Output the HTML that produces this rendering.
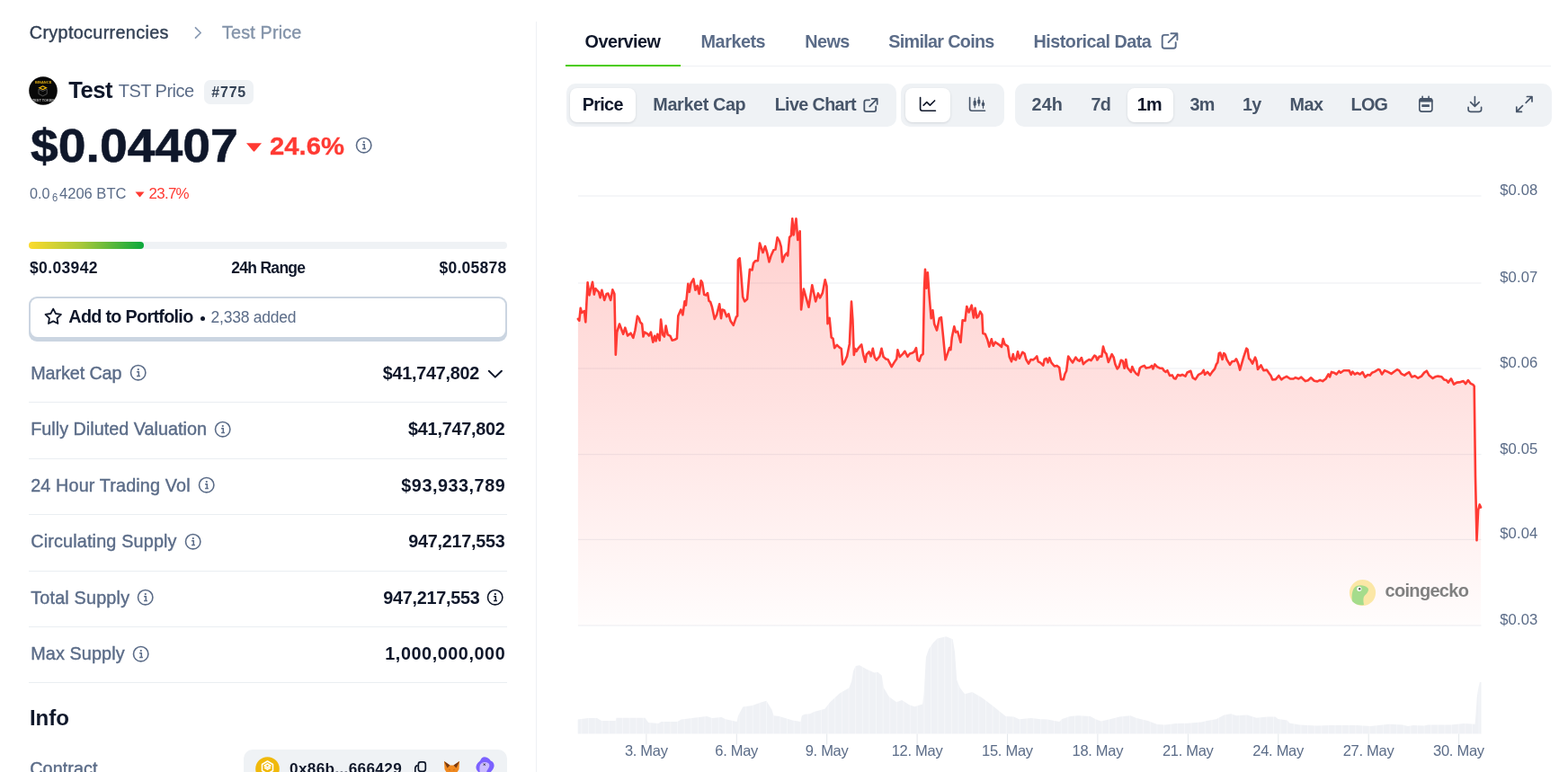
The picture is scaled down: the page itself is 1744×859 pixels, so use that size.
<!DOCTYPE html>
<html><head><meta charset="utf-8"><title>Test Price</title>
<style>
html,body{margin:0;padding:0;background:#fff;}
body{width:1744px;height:859px;overflow:hidden;position:relative;font-family:"Liberation Sans",sans-serif;}
.t{position:absolute;white-space:nowrap;line-height:1;}
.a{position:absolute;display:block;}
</style></head><body>
<div class="t" style="left:32.8px;top:26.9px;font-size:19.80px;color:#334155;letter-spacing:0.34px;-webkit-text-stroke:0.4px #334155;">Cryptocurrencies</div>
<svg class="a" style="left:212px;top:26px" width="16" height="22" viewBox="212 26 16 22"><path d="M217.5 30.8 L223.2 36.5 L217.5 42.2" fill="none" stroke="#8a9bb4" stroke-width="1.75" stroke-linecap="round" stroke-linejoin="round" /></svg>
<div class="t" style="left:247.0px;top:26.9px;font-size:19.80px;color:#8393a9;letter-spacing:0.16px;-webkit-text-stroke:0.4px #8393a9;">Test Price</div>
<svg class="a" style="left:32px;top:85px" width="32" height="32" viewBox="0 0 32 32">
<circle cx="16" cy="16" r="15.8" fill="#080808"/>
<text x="16.2" y="7.6" font-family="Liberation Sans, sans-serif" font-weight="700" font-size="4" fill="#e0ad12" text-anchor="middle">BINANCE</text>
<path d="M15.6 10.2 L20.8 12.7 L15.6 15.2 L10.4 12.7 Z" fill="#f0b90b"/>
<path d="M13.2 12.7 L15.6 11.5 L18 12.7 L15.6 13.9 Z" fill="#080808"/>
<path d="M11 14.2 L15.6 16.5 L20.2 14.2 V19.5 L15.6 21.8 L11 19.5 Z" fill="none" stroke="#5a5a5a" stroke-width="0.9"/>
<text x="16" y="28.2" font-family="Liberation Sans, sans-serif" font-weight="700" font-size="3.8" fill="#b8b8b8" text-anchor="middle">TEST TOKEN</text>
</svg>
<div class="t" style="left:76.2px;top:88.0px;font-size:25.60px;color:#0f172a;font-weight:700;letter-spacing:-0.50px;">Test</div>
<div class="t" style="left:131.8px;top:90.8px;font-size:20.00px;color:#5b6c88;letter-spacing:-0.54px;">TST Price</div>
<div class="a" style="left:227px;top:89px;width:55px;height:27px;border-radius:7px;background:#eff2f5"></div>
<div class="t" style="left:235.2px;top:94.6px;font-size:16.00px;color:#334155;font-weight:700;letter-spacing:0.83px;">#775</div>
<div class="t" style="left:33.9px;top:137.4px;font-size:51.30px;color:#0f172a;font-weight:700;-webkit-text-stroke:0.6px #0f172a;transform:scaleX(1.0784);transform-origin:0 0;">$0.04407</div>
<svg class="a" style="left:273px;top:158px" width="19" height="12" viewBox="0 0 19 12"><path d="M1 1.2 H18 L10.3 10.3 Q9.5 11.2 8.7 10.3 Z" fill="#ff3a33"/></svg>
<div class="t" style="left:300.4px;top:147.8px;font-size:28.20px;color:#ff3a33;font-weight:700;-webkit-text-stroke:0.3px #ff3a33;transform:scaleX(1.0382);transform-origin:0 0;">24.6%</div>
<svg class="a" style="left:394.9px;top:151.8px" width="19.4" height="19.4" viewBox="-9.70 -9.70 19.40 19.40"><circle r="8.2" fill="none" stroke="#5b6c88" stroke-width="1.6"/><circle cx="0.1" cy="-3.6" r="1.15" fill="#5b6c88"/><path d="M-1.6 -0.9 H0.6 V3.9 M-1.6 3.9 H2.2" fill="none" stroke="#5b6c88" stroke-width="1.5"/></svg>
<div class="t" style="left:33.1px;top:208.0px;font-size:16.90px;color:#5b6c88;transform:scaleX(0.9578);transform-origin:0 0;">0.0</div>
<div class="t" style="left:57.7px;top:213.7px;font-size:12.50px;color:#5b6c88;transform:scaleX(0.8937);transform-origin:0 0;">6</div>
<div class="t" style="left:65.5px;top:208.0px;font-size:16.90px;color:#5b6c88;transform:scaleX(0.9785);transform-origin:0 0;">4206 BTC</div>
<svg class="a" style="left:149.5px;top:212.5px" width="11" height="7" viewBox="0 0 11 7"><path d="M0.5 0.6 H10.5 L6 6 Q5.5 6.6 5 6 Z" fill="#ff3a33"/></svg>
<div class="t" style="left:165.5px;top:208.0px;font-size:16.90px;color:#ff3a33;letter-spacing:-0.70px;">23.7%</div>
<div class="a" style="left:32px;top:269px;width:532px;height:8px;border-radius:4px;background:#eff2f5"></div>
<div class="a" style="left:32px;top:269px;width:128px;height:8px;border-radius:4px;background:linear-gradient(90deg,#fcdb2d 0%,#a9c83a 45%,#0ba83c 100%)"></div>
<div class="t" style="left:33.0px;top:290.0px;font-size:17.50px;color:#0f172a;font-weight:700;letter-spacing:0.36px;">$0.03942</div>
<div class="t" style="left:257.2px;top:290.0px;font-size:17.50px;color:#0f172a;font-weight:700;letter-spacing:-0.70px;">24h Range</div>
<div class="t" style="left:488.6px;top:290.0px;font-size:17.50px;color:#0f172a;font-weight:700;letter-spacing:0.23px;">$0.05878</div>
<div class="a" style="left:32px;top:330px;width:532px;height:50px;border-radius:9px;background:#cbd5e1"></div>
<div class="a" style="left:34px;top:332px;width:528px;height:43px;border-radius:7.5px;background:#fff"></div>
<svg class="a" style="left:46px;top:340px" width="26" height="24" viewBox="46 340 26 24"><path d="M59.2 343.6 L62 349 L67.9 349.9 L63.5 354.2 L64.4 360 L59.2 357.4 L54 360 L54.9 354.2 L50.5 349.9 L56.4 349 Z" fill="none" stroke="#0f172a" stroke-width="1.8" stroke-linecap="round" stroke-linejoin="round" /></svg>
<div class="t" style="left:76.3px;top:343.2px;font-size:19.80px;color:#0f172a;font-weight:700;letter-spacing:-0.70px;">Add to Portfolio</div>
<div class="a" style="left:222.5px;top:351.5px;width:5px;height:5px;border-radius:50%;background:#0f172a"></div>
<div class="t" style="left:234.6px;top:344.9px;font-size:17.50px;color:#5b6c88;letter-spacing:-0.24px;">2,338 added</div>
<div class="t" style="left:34.2px;top:405.5px;font-size:19.80px;color:#5b6c88;letter-spacing:-0.10px;-webkit-text-stroke:0.4px #5b6c88;">Market Cap</div>
<svg class="a" style="left:143.5px;top:405.2px" width="19.4" height="19.4" viewBox="-9.70 -9.70 19.40 19.40"><circle r="8.2" fill="none" stroke="#5b6c88" stroke-width="1.6"/><circle cx="0.1" cy="-3.6" r="1.15" fill="#5b6c88"/><path d="M-1.6 -0.9 H0.6 V3.9 M-1.6 3.9 H2.2" fill="none" stroke="#5b6c88" stroke-width="1.5"/></svg>
<div class="t" style="left:425.7px;top:405.5px;font-size:19.80px;color:#0f172a;font-weight:700;letter-spacing:-0.24px;">$41,747,802</div>
<svg class="a" style="left:540px;top:406px" width="22" height="18" viewBox="540 406 22 18"><path d="M543.8 412.7 L550.8 419.6 L557.9 412.7" fill="none" stroke="#0f172a" stroke-width="2.0" stroke-linecap="round" stroke-linejoin="round" /></svg>
<div class="a" style="left:32px;top:447px;width:532px;height:1px;background:#eaeef2"></div>
<div class="t" style="left:34.2px;top:468.0px;font-size:19.80px;color:#5b6c88;letter-spacing:0.02px;-webkit-text-stroke:0.4px #5b6c88;">Fully Diluted Valuation</div>
<svg class="a" style="left:238.0px;top:467.7px" width="19.4" height="19.4" viewBox="-9.70 -9.70 19.40 19.40"><circle r="8.2" fill="none" stroke="#5b6c88" stroke-width="1.6"/><circle cx="0.1" cy="-3.6" r="1.15" fill="#5b6c88"/><path d="M-1.6 -0.9 H0.6 V3.9 M-1.6 3.9 H2.2" fill="none" stroke="#5b6c88" stroke-width="1.5"/></svg>
<div class="t" style="left:454.1px;top:468.0px;font-size:19.80px;color:#0f172a;font-weight:700;letter-spacing:-0.24px;">$41,747,802</div>
<div class="a" style="left:32px;top:510px;width:532px;height:1px;background:#eaeef2"></div>
<div class="t" style="left:34.2px;top:530.5px;font-size:19.80px;color:#5b6c88;letter-spacing:0.14px;-webkit-text-stroke:0.4px #5b6c88;">24 Hour Trading Vol</div>
<svg class="a" style="left:219.5px;top:530.2px" width="19.4" height="19.4" viewBox="-9.70 -9.70 19.40 19.40"><circle r="8.2" fill="none" stroke="#5b6c88" stroke-width="1.6"/><circle cx="0.1" cy="-3.6" r="1.15" fill="#5b6c88"/><path d="M-1.6 -0.9 H0.6 V3.9 M-1.6 3.9 H2.2" fill="none" stroke="#5b6c88" stroke-width="1.5"/></svg>
<div class="t" style="left:446.3px;top:530.5px;font-size:19.80px;color:#0f172a;font-weight:700;letter-spacing:0.54px;">$93,933,789</div>
<div class="a" style="left:32px;top:572px;width:532px;height:1px;background:#eaeef2"></div>
<div class="t" style="left:34.2px;top:593.0px;font-size:19.80px;color:#5b6c88;letter-spacing:0.17px;-webkit-text-stroke:0.4px #5b6c88;">Circulating Supply</div>
<svg class="a" style="left:204.5px;top:592.7px" width="19.4" height="19.4" viewBox="-9.70 -9.70 19.40 19.40"><circle r="8.2" fill="none" stroke="#5b6c88" stroke-width="1.6"/><circle cx="0.1" cy="-3.6" r="1.15" fill="#5b6c88"/><path d="M-1.6 -0.9 H0.6 V3.9 M-1.6 3.9 H2.2" fill="none" stroke="#5b6c88" stroke-width="1.5"/></svg>
<div class="t" style="left:454.3px;top:593.0px;font-size:19.80px;color:#0f172a;font-weight:700;letter-spacing:-0.26px;">947,217,553</div>
<div class="a" style="left:32px;top:635px;width:532px;height:1px;background:#eaeef2"></div>
<div class="t" style="left:34.2px;top:655.5px;font-size:19.80px;color:#5b6c88;letter-spacing:0.19px;-webkit-text-stroke:0.4px #5b6c88;">Total Supply</div>
<svg class="a" style="left:152.0px;top:655.2px" width="19.4" height="19.4" viewBox="-9.70 -9.70 19.40 19.40"><circle r="8.2" fill="none" stroke="#5b6c88" stroke-width="1.6"/><circle cx="0.1" cy="-3.6" r="1.15" fill="#5b6c88"/><path d="M-1.6 -0.9 H0.6 V3.9 M-1.6 3.9 H2.2" fill="none" stroke="#5b6c88" stroke-width="1.5"/></svg>
<div class="t" style="left:426.3px;top:655.5px;font-size:19.80px;color:#0f172a;font-weight:700;letter-spacing:-0.26px;">947,217,553</div>
<svg class="a" style="left:541.1px;top:655.2px" width="19.4" height="19.4" viewBox="-9.70 -9.70 19.40 19.40"><circle r="8.2" fill="none" stroke="#0f172a" stroke-width="1.6"/><circle cx="0.1" cy="-3.6" r="1.15" fill="#0f172a"/><path d="M-1.6 -0.9 H0.6 V3.9 M-1.6 3.9 H2.2" fill="none" stroke="#0f172a" stroke-width="1.5"/></svg>
<div class="a" style="left:32px;top:697px;width:532px;height:1px;background:#eaeef2"></div>
<div class="t" style="left:34.2px;top:718.0px;font-size:19.80px;color:#5b6c88;letter-spacing:0.12px;-webkit-text-stroke:0.4px #5b6c88;">Max Supply</div>
<svg class="a" style="left:146.5px;top:717.7px" width="19.4" height="19.4" viewBox="-9.70 -9.70 19.40 19.40"><circle r="8.2" fill="none" stroke="#5b6c88" stroke-width="1.6"/><circle cx="0.1" cy="-3.6" r="1.15" fill="#5b6c88"/><path d="M-1.6 -0.9 H0.6 V3.9 M-1.6 3.9 H2.2" fill="none" stroke="#5b6c88" stroke-width="1.5"/></svg>
<div class="t" style="left:428.3px;top:718.0px;font-size:19.80px;color:#0f172a;font-weight:700;letter-spacing:0.57px;">1,000,000,000</div>
<div class="a" style="left:32px;top:759px;width:532px;height:1px;background:#eaeef2"></div>
<div class="t" style="left:33.0px;top:787.3px;font-size:24.10px;color:#0f172a;font-weight:700;letter-spacing:-0.07px;">Info</div>
<div class="t" style="left:33.2px;top:845.6px;font-size:19.80px;color:#5b6c88;letter-spacing:0.09px;-webkit-text-stroke:0.4px #5b6c88;">Contract</div>
<div class="a" style="left:271px;top:834px;width:293px;height:50px;border-radius:10px;background:#eff2f5"></div>
<svg class="a" style="left:284px;top:842px" width="27" height="27" viewBox="0 0 27 27"><circle cx="13.5" cy="13.5" r="13.3" fill="#f0b90b"/>
<path d="M13.5 5 L19.5 8.5 V15.5 L13.5 19 L7.5 15.5 V8.5 Z M13.5 8 L16.8 10 L13.5 12 L10.2 10 Z M10 12.2 L13.5 14.2 L17 12.2" fill="none" stroke="#fff" stroke-width="1.5" stroke-linejoin="round"/></svg>
<div class="t" style="left:322.0px;top:847.0px;font-size:17.20px;color:#0f172a;font-weight:700;letter-spacing:0.33px;">0x86b...666429</div>
<svg class="a" style="left:458px;top:844px" width="20" height="18" viewBox="458 844 20 18"><rect x="465.3" y="847.8" width="8" height="10.5" rx="2.6" fill="none" stroke="#0f172a" stroke-width="1.7"/><path d="M461.8 860 V855.3 Q461.8 852.3 464 851.8" fill="none" stroke="#0f172a" stroke-width="1.7" stroke-linecap="round"/></svg>
<svg class="a" style="left:492px;top:845px" width="21" height="16" viewBox="492 845 21 16"><path d="M494 847 L500.5 851.5 H504.5 L511 847 L510.5 856 L508 860 H497 L494.5 856 Z" fill="#f0891f"/><path d="M494 847 L500.5 851.5 L497.5 854.5 Z M511 847 L504.5 851.5 L507.5 854.5 Z" fill="#7a3a10"/><path d="M499 856 L501 857 M506 856 L504 857" stroke="#c46a1a" stroke-width="0.8"/></svg>
<svg class="a" style="left:528px;top:841px" width="23" height="19" viewBox="528 841 23 19"><path d="M539 842.3 C542.3 842.3 544.6 844.6 545.8 846.6 C548.6 847.6 550.2 850.6 549.4 853.2 C548.6 856 546.6 858.2 545 860 L533.5 860 C530.6 858 529 855.4 529.6 852.4 C530.2 849.4 532.6 847.6 534.2 846.2 C535.2 843.8 536.8 842.3 539 842.3 Z" fill="#7b61ff"/><path d="M538.5 848 C541.5 847.6 544.3 849 544.4 851.5 C544.5 853.6 542.6 855.5 541.6 857.6 L541 860 L533.8 860 C533.5 857.5 533.2 855 533.6 852.5 C534 850 536 848.3 538.5 848 Z" fill="#cbbcff"/><path d="M537.8 849.6 L539.6 851.6 M539.6 849.6 L537.8 851.6" stroke="#222" stroke-width="1"/></svg>
<div class="a" style="left:596px;top:24px;width:1.2px;height:835px;background:#eef1f4"></div>
<div class="a" style="left:629px;top:72.5px;width:1096px;height:1.3px;background:#eef1f4"></div>
<div class="a" style="left:629px;top:71.8px;width:128px;height:2.4px;background:#4bcc00"></div>
<div class="t" style="left:650.6px;top:36.7px;font-size:19.80px;color:#0f172a;font-weight:700;letter-spacing:-0.53px;">Overview</div>
<div class="t" style="left:779.6px;top:36.7px;font-size:19.80px;color:#5b6c88;font-weight:700;letter-spacing:-0.46px;">Markets</div>
<div class="t" style="left:895.3px;top:36.7px;font-size:19.80px;color:#5b6c88;font-weight:700;letter-spacing:-0.59px;">News</div>
<div class="t" style="left:988.3px;top:36.7px;font-size:19.80px;color:#5b6c88;font-weight:700;letter-spacing:-0.70px;">Similar Coins</div>
<div class="t" style="left:1149.6px;top:36.7px;font-size:19.80px;color:#5b6c88;font-weight:700;letter-spacing:-0.53px;">Historical Data</div>
<svg class="a" style="left:1290px;top:35px" width="22.00" height="22.00" viewBox="0 0 22 22"><path d="M9.4 3.9 H5.2 Q2.7 3.9 2.7 6.4 V16.3 Q2.7 18.8 5.2 18.8 H15.2 Q17.7 18.8 17.7 16.3 V12.1 M12.4 2.3 H19.4 V9.2 M19.2 2.5 L9.6 12.1" fill="none" stroke="#5b6c88" stroke-width="1.90" stroke-linecap="round" stroke-linejoin="round"/></svg>
<div class="a" style="left:629.5px;top:93px;width:367.0px;height:48px;border-radius:10px;background:#eff2f5"></div>
<div class="a" style="left:1002px;top:93px;width:115px;height:48px;border-radius:10px;background:#eff2f5"></div>
<div class="a" style="left:1129px;top:93px;width:596.5999999999999px;height:48px;border-radius:10px;background:#eff2f5"></div>
<div class="a" style="left:634px;top:98px;width:73px;height:38px;border-radius:8px;background:#fff;box-shadow:0 1px 3px rgba(15,23,42,0.12)"></div>
<div class="a" style="left:1007px;top:98px;width:50px;height:38px;border-radius:8px;background:#fff;box-shadow:0 1px 3px rgba(15,23,42,0.12)"></div>
<div class="a" style="left:1254px;top:98px;width:51px;height:38px;border-radius:8px;background:#fff;box-shadow:0 1px 3px rgba(15,23,42,0.12)"></div>
<div class="t" style="left:647.8px;top:107.2px;font-size:19.80px;color:#0f172a;font-weight:700;letter-spacing:-0.70px;">Price</div>
<div class="t" style="left:726.3px;top:107.2px;font-size:19.80px;color:#475569;font-weight:700;letter-spacing:-0.36px;">Market Cap</div>
<div class="t" style="left:861.7px;top:107.2px;font-size:19.80px;color:#475569;font-weight:700;letter-spacing:-0.65px;">Live Chart</div>
<svg class="a" style="left:958.7px;top:107.6px" width="18.92" height="18.92" viewBox="0 0 22 22"><path d="M9.4 3.9 H5.2 Q2.7 3.9 2.7 6.4 V16.3 Q2.7 18.8 5.2 18.8 H15.2 Q17.7 18.8 17.7 16.3 V12.1 M12.4 2.3 H19.4 V9.2 M19.2 2.5 L9.6 12.1" fill="none" stroke="#475569" stroke-width="2.09" stroke-linecap="round" stroke-linejoin="round"/></svg>
<svg class="a" style="left:1018px;top:104px" width="26" height="24" viewBox="1018 104 26 24"><path d="M1023.6 108.6 V121 Q1023.6 123.2 1025.8 123.2 H1040.4 M1027.2 117.2 L1030.8 113.7 L1034.4 117.2 L1039.6 112" fill="none" stroke="#0f172a" stroke-width="1.65" stroke-linecap="round" stroke-linejoin="round" /></svg>
<svg class="a" style="left:1074px;top:104px" width="26" height="24" viewBox="1074 104 26 24"><path d="M1078.6 108.5 V121 Q1078.6 123.2 1080.8 123.2 H1095.5" fill="none" stroke="#475569" stroke-width="1.65" stroke-linecap="round" stroke-linejoin="round" /><path d="M1084.2 109.3 V119.8 M1088.8 108.2 V117.7 M1093.5 111.8 V120.3" stroke="#475569" stroke-width="1.2" stroke-linecap="round"/><rect x="1082.6" y="112.1" width="3.2" height="5.6" rx="1.1" fill="#475569"/><rect x="1087.2" y="110.8" width="3.2" height="4.8" rx="1.1" fill="#475569"/><rect x="1091.9" y="114.1" width="3.2" height="4" rx="1.1" fill="#475569"/></svg>
<div class="t" style="left:1147.5px;top:107.1px;font-size:19.80px;color:#475569;font-weight:700;letter-spacing:0.17px;">24h</div>
<div class="t" style="left:1213.4px;top:107.1px;font-size:19.80px;color:#475569;font-weight:700;letter-spacing:-0.70px;">7d</div>
<div class="t" style="left:1264.7px;top:107.1px;font-size:19.80px;color:#0f172a;font-weight:700;letter-spacing:-0.70px;">1m</div>
<div class="t" style="left:1323.4px;top:107.1px;font-size:19.80px;color:#475569;font-weight:700;letter-spacing:-0.70px;">3m</div>
<div class="t" style="left:1381.9px;top:107.1px;font-size:19.80px;color:#475569;font-weight:700;letter-spacing:-0.70px;">1y</div>
<div class="t" style="left:1434.5px;top:107.1px;font-size:19.80px;color:#475569;font-weight:700;letter-spacing:-0.51px;">Max</div>
<div class="t" style="left:1502.5px;top:107.1px;font-size:19.80px;color:#475569;font-weight:700;letter-spacing:-0.70px;">LOG</div>
<svg class="a" style="left:1575px;top:104px" width="22" height="24" viewBox="1575 104 22 24"><rect x="1578.8" y="109.8" width="14.1" height="14.3" rx="2.6" fill="none" stroke="#475569" stroke-width="1.6"/><path d="M1578.4 112.3 Q1578.4 109 1581.4 109 H1590.4 Q1593.5 109 1593.5 112.3 V113.6 H1578.4 Z" fill="#475569"/><path d="M1582.1 107.4 V110 M1589.1 107.4 V110" stroke="#475569" stroke-width="1.6" stroke-linecap="round"/><rect x="1581.3" y="116.3" width="8.6" height="2.8" rx="0.5" fill="#475569"/></svg>
<svg class="a" style="left:1629px;top:104px" width="22" height="24" viewBox="1629 104 22 24"><path d="M1640.4 107.5 V118.2 M1635.6 113.6 L1640.4 118.4 L1645.2 113.6 M1633.1 119.3 V121.8 Q1633.1 124.3 1635.6 124.3 H1645.2 Q1647.6 124.3 1647.6 121.8 V119.3" fill="none" stroke="#475569" stroke-width="1.65" stroke-linecap="round" stroke-linejoin="round" /></svg>
<svg class="a" style="left:1683px;top:104px" width="24" height="24" viewBox="1683 104 24 24"><path d="M1698.4 107.5 H1704 V113 M1703.8 107.7 L1697.2 114.3 M1686.8 119 V124.4 H1692.4 M1687 124.2 L1693.5 117.7" fill="none" stroke="#475569" stroke-width="1.7" stroke-linecap="round" stroke-linejoin="round" /></svg>
<svg class="a" style="left:600px;top:150px" width="1144" height="709" viewBox="600 150 1144 709">
<defs><linearGradient id="ag" gradientUnits="userSpaceOnUse" x1="0" y1="230" x2="0" y2="700"><stop offset="0" stop-color="#ff3a33" stop-opacity="0.24"/><stop offset="0.45" stop-color="#ff3a33" stop-opacity="0.15"/><stop offset="1" stop-color="#ff3a33" stop-opacity="0.01"/></linearGradient><pattern id="vp" patternUnits="userSpaceOnUse" x="1004.5" y="0" width="7.62" height="10"><rect width="7.62" height="10" fill="#eff1f5"/><rect x="0" width="0.8" height="10" fill="#f7f8fa"/></pattern></defs>
<rect x="643" y="217.4" width="1004.5" height="1.2" fill="#eef1f4"/>
<rect x="643" y="314.4" width="1004.5" height="1.2" fill="#eef1f4"/>
<rect x="643" y="409.4" width="1004.5" height="1.2" fill="#eef1f4"/>
<rect x="643" y="505.0" width="1004.5" height="1.2" fill="#eef1f4"/>
<rect x="643" y="599.8" width="1004.5" height="1.2" fill="#eef1f4"/>
<rect x="643" y="695.4" width="1004.5" height="1.2" fill="#eef1f4"/>
<path d="M642.9 354.9 L644.3 356.8 L645.7 342.8 L647.1 348.0 L649.9 346.1 L651.3 358.4 L653.6 314.4 L655.5 328.4 L659.0 313.7 L660.8 327.7 L662.4 321.0 L664.5 323.5 L665.9 324.9 L667.6 331.2 L669.4 322.8 L672.2 334.0 L674.6 327.0 L676.4 326.6 L679.2 334.0 L681.3 322.4 L683.4 327.0 L684.8 394.7 L686.2 369.6 L689.0 360.5 L693.2 371.7 L695.3 364.7 L698.1 373.5 L701.5 370.7 L704.3 375.9 L706.4 367.5 L708.9 351.9 L710.9 354.5 L712.0 358.4 L714.1 360.5 L715.5 374.5 L716.9 369.6 L720.4 371.7 L721.8 373.5 L723.9 369.6 L726.3 380.8 L728.1 373.8 L729.5 379.4 L731.3 371.7 L733.7 378.7 L735.1 355.6 L737.1 372.4 L738.9 374.5 L740.6 362.6 L742.7 372.4 L745.5 373.8 L747.6 378.7 L750.4 378.0 L752.9 376.6 L754.3 351.5 L757.3 344.5 L759.4 350.3 L761.5 335.4 L762.9 339.6 L765.3 315.8 L766.8 324.9 L768.5 315.1 L771.3 310.3 L773.4 322.8 L775.5 317.9 L777.6 327.0 L779.7 312.3 L781.1 314.4 L783.2 327.7 L785.3 328.4 L787.0 326.0 L788.5 334.7 L790.2 336.1 L792.0 341.7 L794.8 354.9 L797.2 350.1 L800.2 338.2 L802.0 354.2 L803.4 344.5 L805.5 345.2 L808.3 352.2 L810.4 349.4 L812.5 357.0 L815.7 361.9 L818.8 352.8 L820.2 351.5 L820.9 289.4 L822.7 287.3 L824.1 302.6 L826.2 330.6 L828.3 335.4 L831.1 332.7 L833.9 299.8 L836.6 300.5 L838.0 292.8 L840.1 290.3 L842.9 290.1 L845.0 270.5 L848.5 281.0 L851.0 274.0 L853.0 280.3 L855.5 291.5 L857.6 284.5 L860.4 278.2 L862.5 277.5 L864.6 264.2 L867.0 268.4 L868.8 274.7 L870.2 291.5 L873.0 283.8 L875.1 281.7 L876.2 284.5 L878.1 264.2 L879.9 262.1 L881.3 243.3 L882.7 261.4 L885.5 243.3 L887.3 267.0 L889.7 257.2 L891.1 344.5 L893.9 321.5 L896.0 329.2 L899.5 341.7 L903.3 317.3 L907.2 335.4 L910.0 326.4 L912.1 331.4 L914.9 325.8 L917.7 311.2 L919.5 318.2 L920.5 360.1 L922.6 353.8 L924.7 375.4 L926.5 376.8 L928.2 387.3 L930.9 383.8 L933.7 386.6 L935.8 388.0 L937.2 405.4 L939.3 402.7 L942.1 396.4 L944.9 382.4 L947.0 335.6 L948.4 355.9 L949.8 395.0 L951.2 388.0 L952.6 390.8 L954.7 387.3 L958.2 383.5 L960.3 395.0 L962.4 402.7 L963.8 394.3 L966.6 391.5 L968.7 396.4 L970.8 387.7 L972.8 397.8 L974.9 400.6 L978.4 396.4 L980.5 387.7 L982.6 397.1 L985.4 399.4 L987.5 399.9 L991.7 408.2 L994.5 403.4 L997.3 399.2 L998.4 389.4 L1000.8 397.1 L1004.3 393.6 L1006.4 390.8 L1009.5 396.8 L1012.0 393.4 L1014.8 392.7 L1016.9 391.3 L1019.0 387.1 L1020.6 400.3 L1022.5 401.7 L1024.6 395.4 L1026.6 394.0 L1028.0 320.7 L1029.0 299.8 L1030.4 320.7 L1031.8 303.3 L1033.6 329.1 L1035.7 354.2 L1037.4 345.2 L1039.2 360.5 L1042.0 367.5 L1044.8 354.2 L1046.9 353.1 L1049.0 373.8 L1051.5 400.3 L1053.9 393.4 L1056.0 387.1 L1057.4 389.2 L1058.8 375.2 L1061.3 363.3 L1063.0 369.6 L1065.1 368.9 L1068.5 380.8 L1070.6 356.3 L1073.4 357.0 L1075.3 341.0 L1077.6 347.5 L1080.7 339.6 L1082.9 353.5 L1084.6 342.8 L1086.4 353.5 L1088.1 352.2 L1090.2 346.6 L1092.3 350.1 L1093.3 371.0 L1095.8 371.7 L1098.3 378.0 L1100.3 385.7 L1102.8 377.3 L1104.7 384.8 L1107.0 380.7 L1110.5 383.1 L1114.0 386.0 L1115.7 377.0 L1117.5 383.1 L1121.0 385.4 L1122.7 397.0 L1125.0 402.3 L1126.8 394.1 L1127.9 399.4 L1130.0 400.5 L1132.0 391.2 L1133.8 398.8 L1137.3 391.8 L1139.6 393.6 L1141.3 400.0 L1144.0 404.6 L1146.6 400.0 L1148.9 400.5 L1151.2 398.8 L1153.3 396.5 L1154.7 402.3 L1157.0 403.4 L1160.3 406.6 L1161.7 400.0 L1163.8 398.8 L1165.5 403.4 L1167.3 398.2 L1169.3 403.4 L1172.8 407.5 L1175.7 406.9 L1178.2 408.9 L1180.1 422.1 L1182.9 422.1 L1184.4 416.3 L1186.1 412.8 L1188.2 396.5 L1190.2 399.4 L1193.1 403.4 L1196.4 397.6 L1198.5 400.5 L1200.6 401.7 L1202.9 398.0 L1204.9 405.2 L1207.8 402.3 L1211.3 400.0 L1213.6 401.1 L1217.4 395.6 L1218.9 396.5 L1220.4 400.5 L1222.9 396.5 L1225.3 396.8 L1227.0 385.6 L1228.8 391.8 L1230.5 393.6 L1232.8 402.9 L1236.7 394.1 L1238.7 397.6 L1240.4 405.2 L1242.7 410.4 L1244.5 408.1 L1246.8 400.8 L1248.8 401.7 L1250.6 409.8 L1252.3 400.0 L1253.8 408.7 L1255.5 411.0 L1257.9 413.9 L1259.3 408.1 L1261.4 412.8 L1263.7 415.7 L1266.0 417.4 L1267.8 409.6 L1269.5 408.1 L1272.8 406.9 L1274.7 409.6 L1278.8 408.7 L1281.1 406.9 L1282.5 410.4 L1284.4 405.4 L1287.0 408.1 L1290.5 409.8 L1292.9 409.8 L1294.5 412.2 L1296.4 413.9 L1298.4 412.2 L1301.1 418.0 L1303.7 417.4 L1305.7 420.9 L1307.5 421.5 L1310.0 417.1 L1312.7 418.0 L1315.0 416.8 L1318.5 418.6 L1320.5 414.5 L1324.3 412.8 L1326.7 420.3 L1329.6 422.1 L1333.1 416.8 L1336.6 415.1 L1338.7 411.9 L1340.1 416.8 L1343.0 413.9 L1345.9 417.4 L1348.2 413.9 L1351.1 410.4 L1352.9 405.2 L1354.3 403.4 L1355.8 393.0 L1357.3 392.6 L1359.6 400.0 L1361.2 393.0 L1362.8 394.7 L1364.5 400.0 L1368.0 405.8 L1370.3 402.3 L1373.2 401.7 L1375.0 399.4 L1377.3 404.6 L1379.1 411.6 L1383.1 397.6 L1386.4 387.7 L1387.6 388.9 L1389.1 398.8 L1390.8 400.5 L1393.1 404.6 L1396.1 397.6 L1397.6 401.7 L1399.0 411.0 L1402.5 406.4 L1405.4 412.2 L1408.9 411.6 L1411.8 415.7 L1413.5 418.0 L1415.3 422.4 L1418.8 422.1 L1422.3 418.0 L1425.2 422.4 L1428.1 420.3 L1431.0 418.9 L1435.1 421.5 L1438.6 421.5 L1440.9 420.1 L1444.4 421.5 L1447.3 419.7 L1451.9 424.1 L1454.8 423.2 L1458.1 420.3 L1461.8 423.8 L1465.3 424.4 L1468.2 422.9 L1471.1 424.1 L1474.6 421.5 L1477.5 416.3 L1479.1 419.4 L1481.0 413.9 L1484.5 415.1 L1486.4 416.5 L1489.3 413.0 L1491.1 414.7 L1494.6 412.2 L1497.5 412.2 L1500.7 412.4 L1502.7 416.8 L1504.4 413.6 L1506.8 416.5 L1509.7 414.9 L1512.6 416.5 L1515.5 414.1 L1518.4 419.6 L1521.3 417.0 L1523.7 417.6 L1526.0 414.7 L1528.9 413.6 L1533.0 411.0 L1534.7 411.8 L1537.0 416.5 L1540.0 412.2 L1543.4 413.6 L1547.5 415.9 L1551.0 413.3 L1553.9 411.2 L1556.3 412.4 L1558.6 415.9 L1562.1 417.6 L1564.4 415.9 L1567.3 414.1 L1570.2 419.4 L1573.7 418.2 L1577.2 420.7 L1581.0 418.6 L1584.1 414.6 L1586.8 412.7 L1589.4 417.5 L1593.6 420.9 L1596.2 419.3 L1599.3 418.6 L1603.5 419.3 L1606.1 422.4 L1608.8 423.0 L1610.7 425.6 L1614.0 421.4 L1617.1 427.7 L1620.3 425.6 L1624.5 425.1 L1627.6 424.0 L1630.2 427.1 L1632.9 423.0 L1635.5 426.6 L1638.6 428.2 L1639.7 429.8 L1641.0 530.0 L1642.5 601.3 L1644.1 567.7 L1645.7 561.4 L1647.0 564.6 L1647.0 696 L642.9 696 Z" fill="url(#ag)"/>
<path d="M642.7 800.6 L654.2 799.1 L663.9 799.1 L669.1 802.1 L684.7 802.1 L685.5 798.7 L717.5 798.7 L721.2 804.1 L732.4 805.1 L735.4 802.9 L753.3 802.9 L757.8 800.6 L769.7 799.1 L786.1 796.9 L792.1 799.1 L802.5 798.1 L807.0 800.2 L819.6 802.9 L821.1 796.2 L826.3 786.5 L836.8 785.0 L845.7 781.7 L852.4 779.8 L858.4 789.4 L860.6 796.2 L866.6 796.9 L881.5 801.4 L890.4 802.9 L891.9 796.2 L895.0 794.7 L901.0 794.2 L905.4 792.1 L917.4 788.7 L923.3 781.2 L933.8 771.6 L944.2 765.6 L947.2 758.1 L949.0 747.0 L951.6 741.0 L956.1 740.3 L963.6 744.4 L972.5 748.4 L976.2 747.7 L980.7 751.4 L983.0 765.6 L988.9 775.3 L997.1 781.2 L1003.1 779.0 L1011.3 784.2 L1017.2 786.2 L1026.2 783.5 L1027.7 770.1 L1029.9 731.3 L1032.9 722.4 L1038.1 714.9 L1042.6 710.4 L1052.3 708.2 L1059.7 711.2 L1062.0 725.3 L1064.2 756.6 L1067.9 765.6 L1073.1 772.3 L1081.3 770.1 L1091.8 776.0 L1103.7 785.0 L1118.6 796.9 L1127.6 797.6 L1133.5 800.2 L1146.9 799.1 L1157.5 800.2 L1164.9 800.6 L1178.3 802.9 L1181.3 799.9 L1190.3 796.9 L1199.2 796.2 L1212.6 796.9 L1218.6 800.2 L1224.5 802.6 L1233.5 800.6 L1245.4 797.6 L1257.3 796.2 L1263.3 798.7 L1276.7 802.1 L1287.1 806.1 L1296.1 806.6 L1308.0 805.1 L1321.4 804.8 L1336.3 803.6 L1342.3 802.1 L1352.7 800.2 L1361.7 795.4 L1369.1 794.2 L1375.1 796.2 L1387.0 795.4 L1397.5 798.7 L1410.0 797.6 L1418.4 797.6 L1421.4 799.9 L1431.8 801.4 L1434.1 804.4 L1445.2 806.6 L1464.6 807.6 L1479.5 807.0 L1509.4 807.0 L1524.3 808.1 L1545.1 805.8 L1560.0 806.6 L1566.0 808.1 L1572.0 807.0 L1583.9 807.6 L1588.4 806.6 L1613.7 806.6 L1628.6 805.1 L1640.5 805.8 L1641.3 796.9 L1642.8 775.3 L1644.3 765.6 L1645.8 758.9 L1647.5 758.9 L1647.5 816.5 L642.7 816.5 Z" fill="url(#vp)"/>
<path d="M642.9 354.9 L644.3 356.8 L645.7 342.8 L647.1 348.0 L649.9 346.1 L651.3 358.4 L653.6 314.4 L655.5 328.4 L659.0 313.7 L660.8 327.7 L662.4 321.0 L664.5 323.5 L665.9 324.9 L667.6 331.2 L669.4 322.8 L672.2 334.0 L674.6 327.0 L676.4 326.6 L679.2 334.0 L681.3 322.4 L683.4 327.0 L684.8 394.7 L686.2 369.6 L689.0 360.5 L693.2 371.7 L695.3 364.7 L698.1 373.5 L701.5 370.7 L704.3 375.9 L706.4 367.5 L708.9 351.9 L710.9 354.5 L712.0 358.4 L714.1 360.5 L715.5 374.5 L716.9 369.6 L720.4 371.7 L721.8 373.5 L723.9 369.6 L726.3 380.8 L728.1 373.8 L729.5 379.4 L731.3 371.7 L733.7 378.7 L735.1 355.6 L737.1 372.4 L738.9 374.5 L740.6 362.6 L742.7 372.4 L745.5 373.8 L747.6 378.7 L750.4 378.0 L752.9 376.6 L754.3 351.5 L757.3 344.5 L759.4 350.3 L761.5 335.4 L762.9 339.6 L765.3 315.8 L766.8 324.9 L768.5 315.1 L771.3 310.3 L773.4 322.8 L775.5 317.9 L777.6 327.0 L779.7 312.3 L781.1 314.4 L783.2 327.7 L785.3 328.4 L787.0 326.0 L788.5 334.7 L790.2 336.1 L792.0 341.7 L794.8 354.9 L797.2 350.1 L800.2 338.2 L802.0 354.2 L803.4 344.5 L805.5 345.2 L808.3 352.2 L810.4 349.4 L812.5 357.0 L815.7 361.9 L818.8 352.8 L820.2 351.5 L820.9 289.4 L822.7 287.3 L824.1 302.6 L826.2 330.6 L828.3 335.4 L831.1 332.7 L833.9 299.8 L836.6 300.5 L838.0 292.8 L840.1 290.3 L842.9 290.1 L845.0 270.5 L848.5 281.0 L851.0 274.0 L853.0 280.3 L855.5 291.5 L857.6 284.5 L860.4 278.2 L862.5 277.5 L864.6 264.2 L867.0 268.4 L868.8 274.7 L870.2 291.5 L873.0 283.8 L875.1 281.7 L876.2 284.5 L878.1 264.2 L879.9 262.1 L881.3 243.3 L882.7 261.4 L885.5 243.3 L887.3 267.0 L889.7 257.2 L891.1 344.5 L893.9 321.5 L896.0 329.2 L899.5 341.7 L903.3 317.3 L907.2 335.4 L910.0 326.4 L912.1 331.4 L914.9 325.8 L917.7 311.2 L919.5 318.2 L920.5 360.1 L922.6 353.8 L924.7 375.4 L926.5 376.8 L928.2 387.3 L930.9 383.8 L933.7 386.6 L935.8 388.0 L937.2 405.4 L939.3 402.7 L942.1 396.4 L944.9 382.4 L947.0 335.6 L948.4 355.9 L949.8 395.0 L951.2 388.0 L952.6 390.8 L954.7 387.3 L958.2 383.5 L960.3 395.0 L962.4 402.7 L963.8 394.3 L966.6 391.5 L968.7 396.4 L970.8 387.7 L972.8 397.8 L974.9 400.6 L978.4 396.4 L980.5 387.7 L982.6 397.1 L985.4 399.4 L987.5 399.9 L991.7 408.2 L994.5 403.4 L997.3 399.2 L998.4 389.4 L1000.8 397.1 L1004.3 393.6 L1006.4 390.8 L1009.5 396.8 L1012.0 393.4 L1014.8 392.7 L1016.9 391.3 L1019.0 387.1 L1020.6 400.3 L1022.5 401.7 L1024.6 395.4 L1026.6 394.0 L1028.0 320.7 L1029.0 299.8 L1030.4 320.7 L1031.8 303.3 L1033.6 329.1 L1035.7 354.2 L1037.4 345.2 L1039.2 360.5 L1042.0 367.5 L1044.8 354.2 L1046.9 353.1 L1049.0 373.8 L1051.5 400.3 L1053.9 393.4 L1056.0 387.1 L1057.4 389.2 L1058.8 375.2 L1061.3 363.3 L1063.0 369.6 L1065.1 368.9 L1068.5 380.8 L1070.6 356.3 L1073.4 357.0 L1075.3 341.0 L1077.6 347.5 L1080.7 339.6 L1082.9 353.5 L1084.6 342.8 L1086.4 353.5 L1088.1 352.2 L1090.2 346.6 L1092.3 350.1 L1093.3 371.0 L1095.8 371.7 L1098.3 378.0 L1100.3 385.7 L1102.8 377.3 L1104.7 384.8 L1107.0 380.7 L1110.5 383.1 L1114.0 386.0 L1115.7 377.0 L1117.5 383.1 L1121.0 385.4 L1122.7 397.0 L1125.0 402.3 L1126.8 394.1 L1127.9 399.4 L1130.0 400.5 L1132.0 391.2 L1133.8 398.8 L1137.3 391.8 L1139.6 393.6 L1141.3 400.0 L1144.0 404.6 L1146.6 400.0 L1148.9 400.5 L1151.2 398.8 L1153.3 396.5 L1154.7 402.3 L1157.0 403.4 L1160.3 406.6 L1161.7 400.0 L1163.8 398.8 L1165.5 403.4 L1167.3 398.2 L1169.3 403.4 L1172.8 407.5 L1175.7 406.9 L1178.2 408.9 L1180.1 422.1 L1182.9 422.1 L1184.4 416.3 L1186.1 412.8 L1188.2 396.5 L1190.2 399.4 L1193.1 403.4 L1196.4 397.6 L1198.5 400.5 L1200.6 401.7 L1202.9 398.0 L1204.9 405.2 L1207.8 402.3 L1211.3 400.0 L1213.6 401.1 L1217.4 395.6 L1218.9 396.5 L1220.4 400.5 L1222.9 396.5 L1225.3 396.8 L1227.0 385.6 L1228.8 391.8 L1230.5 393.6 L1232.8 402.9 L1236.7 394.1 L1238.7 397.6 L1240.4 405.2 L1242.7 410.4 L1244.5 408.1 L1246.8 400.8 L1248.8 401.7 L1250.6 409.8 L1252.3 400.0 L1253.8 408.7 L1255.5 411.0 L1257.9 413.9 L1259.3 408.1 L1261.4 412.8 L1263.7 415.7 L1266.0 417.4 L1267.8 409.6 L1269.5 408.1 L1272.8 406.9 L1274.7 409.6 L1278.8 408.7 L1281.1 406.9 L1282.5 410.4 L1284.4 405.4 L1287.0 408.1 L1290.5 409.8 L1292.9 409.8 L1294.5 412.2 L1296.4 413.9 L1298.4 412.2 L1301.1 418.0 L1303.7 417.4 L1305.7 420.9 L1307.5 421.5 L1310.0 417.1 L1312.7 418.0 L1315.0 416.8 L1318.5 418.6 L1320.5 414.5 L1324.3 412.8 L1326.7 420.3 L1329.6 422.1 L1333.1 416.8 L1336.6 415.1 L1338.7 411.9 L1340.1 416.8 L1343.0 413.9 L1345.9 417.4 L1348.2 413.9 L1351.1 410.4 L1352.9 405.2 L1354.3 403.4 L1355.8 393.0 L1357.3 392.6 L1359.6 400.0 L1361.2 393.0 L1362.8 394.7 L1364.5 400.0 L1368.0 405.8 L1370.3 402.3 L1373.2 401.7 L1375.0 399.4 L1377.3 404.6 L1379.1 411.6 L1383.1 397.6 L1386.4 387.7 L1387.6 388.9 L1389.1 398.8 L1390.8 400.5 L1393.1 404.6 L1396.1 397.6 L1397.6 401.7 L1399.0 411.0 L1402.5 406.4 L1405.4 412.2 L1408.9 411.6 L1411.8 415.7 L1413.5 418.0 L1415.3 422.4 L1418.8 422.1 L1422.3 418.0 L1425.2 422.4 L1428.1 420.3 L1431.0 418.9 L1435.1 421.5 L1438.6 421.5 L1440.9 420.1 L1444.4 421.5 L1447.3 419.7 L1451.9 424.1 L1454.8 423.2 L1458.1 420.3 L1461.8 423.8 L1465.3 424.4 L1468.2 422.9 L1471.1 424.1 L1474.6 421.5 L1477.5 416.3 L1479.1 419.4 L1481.0 413.9 L1484.5 415.1 L1486.4 416.5 L1489.3 413.0 L1491.1 414.7 L1494.6 412.2 L1497.5 412.2 L1500.7 412.4 L1502.7 416.8 L1504.4 413.6 L1506.8 416.5 L1509.7 414.9 L1512.6 416.5 L1515.5 414.1 L1518.4 419.6 L1521.3 417.0 L1523.7 417.6 L1526.0 414.7 L1528.9 413.6 L1533.0 411.0 L1534.7 411.8 L1537.0 416.5 L1540.0 412.2 L1543.4 413.6 L1547.5 415.9 L1551.0 413.3 L1553.9 411.2 L1556.3 412.4 L1558.6 415.9 L1562.1 417.6 L1564.4 415.9 L1567.3 414.1 L1570.2 419.4 L1573.7 418.2 L1577.2 420.7 L1581.0 418.6 L1584.1 414.6 L1586.8 412.7 L1589.4 417.5 L1593.6 420.9 L1596.2 419.3 L1599.3 418.6 L1603.5 419.3 L1606.1 422.4 L1608.8 423.0 L1610.7 425.6 L1614.0 421.4 L1617.1 427.7 L1620.3 425.6 L1624.5 425.1 L1627.6 424.0 L1630.2 427.1 L1632.9 423.0 L1635.5 426.6 L1638.6 428.2 L1639.7 429.8 L1641.0 530.0 L1642.5 601.3 L1644.1 567.7 L1645.7 561.4 L1647.0 564.6" fill="none" stroke="#ff3a33" stroke-width="2.6" stroke-linejoin="round" stroke-linecap="round"/>
<rect x="718.4" y="816.5" width="1" height="12" fill="#e3e7ec"/>
<rect x="818.8" y="816.5" width="1" height="12" fill="#e3e7ec"/>
<rect x="919.2" y="816.5" width="1" height="12" fill="#e3e7ec"/>
<rect x="1019.6" y="816.5" width="1" height="12" fill="#e3e7ec"/>
<rect x="1120.0" y="816.5" width="1" height="12" fill="#e3e7ec"/>
<rect x="1220.4" y="816.5" width="1" height="12" fill="#e3e7ec"/>
<rect x="1320.9" y="816.5" width="1" height="12" fill="#e3e7ec"/>
<rect x="1421.3" y="816.5" width="1" height="12" fill="#e3e7ec"/>
<rect x="1521.7" y="816.5" width="1" height="12" fill="#e3e7ec"/>
<rect x="1622.1" y="816.5" width="1" height="12" fill="#e3e7ec"/>
</svg>
<div class="t" style="left:1668.2px;top:203.9px;font-size:16.60px;color:#5b6c88;letter-spacing:0.15px;">$0.08</div>
<div class="t" style="left:1668.2px;top:300.9px;font-size:16.60px;color:#5b6c88;letter-spacing:0.15px;">$0.07</div>
<div class="t" style="left:1668.2px;top:395.9px;font-size:16.60px;color:#5b6c88;letter-spacing:0.15px;">$0.06</div>
<div class="t" style="left:1668.2px;top:491.5px;font-size:16.60px;color:#5b6c88;letter-spacing:0.15px;">$0.05</div>
<div class="t" style="left:1668.2px;top:586.3px;font-size:16.60px;color:#5b6c88;letter-spacing:0.15px;">$0.04</div>
<div class="t" style="left:1668.2px;top:681.9px;font-size:16.60px;color:#5b6c88;letter-spacing:0.15px;">$0.03</div>
<div class="t" style="left:694.9px;top:826.8px;font-size:16.50px;color:#5b6c88;letter-spacing:-0.30px;">3. May</div>
<div class="t" style="left:795.3px;top:826.8px;font-size:16.50px;color:#5b6c88;letter-spacing:-0.30px;">6. May</div>
<div class="t" style="left:895.7px;top:826.8px;font-size:16.50px;color:#5b6c88;letter-spacing:-0.30px;">9. May</div>
<div class="t" style="left:991.7px;top:826.8px;font-size:16.50px;color:#5b6c88;letter-spacing:-0.29px;">12. May</div>
<div class="t" style="left:1092.1px;top:826.8px;font-size:16.50px;color:#5b6c88;letter-spacing:-0.29px;">15. May</div>
<div class="t" style="left:1192.5px;top:826.8px;font-size:16.50px;color:#5b6c88;letter-spacing:-0.29px;">18. May</div>
<div class="t" style="left:1292.9px;top:826.8px;font-size:16.50px;color:#5b6c88;letter-spacing:-0.29px;">21. May</div>
<div class="t" style="left:1393.3px;top:826.8px;font-size:16.50px;color:#5b6c88;letter-spacing:-0.29px;">24. May</div>
<div class="t" style="left:1493.7px;top:826.8px;font-size:16.50px;color:#5b6c88;letter-spacing:-0.29px;">27. May</div>
<div class="t" style="left:1594.1px;top:826.8px;font-size:16.50px;color:#5b6c88;letter-spacing:-0.29px;">30. May</div>
<svg class="a" style="left:1500px;top:644px" width="31" height="31" viewBox="0 0 31 31"><circle cx="15.5" cy="15.5" r="14.6" fill="#fbe7a6"/>
<path d="M4 25 C3 18 4 10 9 8 C13 6.5 18 7 21 10 C23.5 12 21 16 18 18.5 C16 20.5 16 24 17 29 C12 30 7 28.5 4 25 Z" fill="#a5dc8c"/>
<circle cx="11.8" cy="11.3" r="2.6" fill="#fff"/><circle cx="12.2" cy="11.3" r="1.2" fill="#555"/></svg>
<div class="t" style="left:1540.5px;top:647.0px;font-size:20.00px;color:#7a7a7a;font-weight:700;letter-spacing:-0.68px;opacity:0.95;">coingecko</div>
</body></html>
